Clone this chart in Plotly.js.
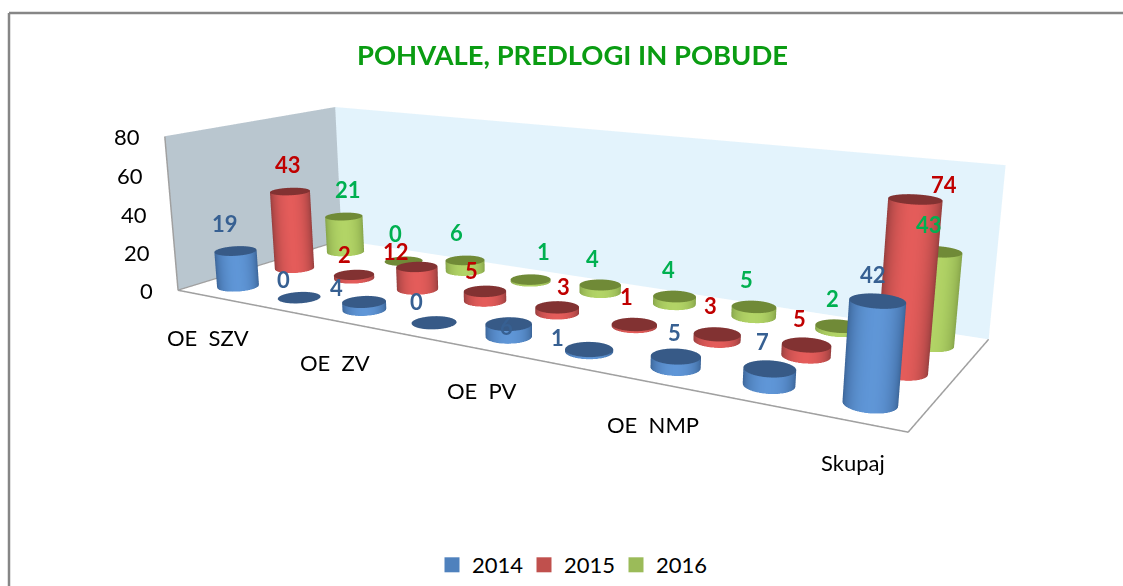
<!DOCTYPE html>
<html><head><meta charset="utf-8">
<script src="https://cdn.plot.ly/plotly-3.0.1.min.js"></script>
<style>html,body{margin:0;padding:0;background:#fff;overflow:hidden;width:1123px;height:586px}#g{position:absolute;left:0}</style>
</head><body><div id="g"></div>
<script>
const categories=['OE  SZV','','OE  ZV','','OE  PV','','OE  NMP','','Skupaj'];
const seriesNames=['2014','2015','2016'];
const v2014=[19,0,4,0,6,1,5,7,42];
const v2015=[43,2,12,5,3,1,3,5,74];
const v2016=[21,0,6,1,4,4,5,2,43];
const zTicks=[0,20,40,60,80];

const vals=[v2014,v2015,v2016];
// pixel nudges of the data labels away from the default spot above each cylinder
const nudgeX=[[-11,-16,-28,-18,-2,-32,-1,-7,-5],[-2,-10,-21,-13,6,-8,-7,-7,29],[4,-8,-9,13,-8,-6,-7,-6,-8]];
const nudgeY=[[0,9,13,6,29,15,3,0,1],[0,7,12,6,6,-1,-2,1,12],[0,-1,-1,-1,1,0,0,-1,0]];

// camera fitted to the wall and floor corners of the reference
const ex=0.7935,ey=-1.3272,ez=0.3605,cx=0.0215,cy=-0.0254,cz=-0.0698,ay=0.3409,az=0.2107,ax=1;
const H=1045,top0=-229;
const gd=document.getElementById('g');gd.style.top=top0+'px';gd.style.width='1123px';gd.style.height=H+'px';

const shades=[{c:[95,150,215],e:[55,95,145],t:[55,90,135]},{c:[228,92,90],e:[140,58,58],t:[130,50,50]},{c:[178,212,102],e:[128,158,70],t:[112,138,55]}];
const R=0.028;
function rgb(c){return'rgb('+c.map(Math.round).join(',')+')'}
function mesh(j){const X=[],Y=[],Z=[],I=[],J=[],K=[],C=[];const N=48,k=shades[j];
 vals[j].forEach((v,i)=>{const cxd=i+.5,cyd=j+.5,rx=R*9/ax,ry=R*3/ay;
  const nx=(cxd/9-.5)*ax,ny=(cyd/3-.5)*ay;const dl=Math.hypot(ex-nx,ey-ny);const d=[(ex-nx)/dl,(ey-ny)/dl];
  const b=X.length;
  for(let a=0;a<=N;a++){const t=a/N*2*Math.PI,cs=Math.cos(t),sn=Math.sin(t);const w=Math.max(0,cs*d[0]+sn*d[1]);
   const col=rgb(k.e.map((q,m)=>q+(k.c[m]-q)*Math.pow(w,1.2)));
   X.push(cxd+rx*cs,cxd+rx*cs);Y.push(cyd+ry*sn,cyd+ry*sn);Z.push(0,v);C.push(col,col);
   if(a<N){const p=b+2*a;I.push(p,p+1);J.push(p+2,p+2);K.push(p+1,p+3)}}
  const tc=X.length;X.push(cxd);Y.push(cyd);Z.push(v);C.push(rgb(k.t));
  for(let a=0;a<=N;a++){const t=a/N*2*Math.PI;X.push(cxd+rx*Math.cos(t));Y.push(cyd+ry*Math.sin(t));Z.push(v);C.push(rgb(k.t));
   if(a<N){I.push(tc);J.push(tc+1+a);K.push(tc+2+a)}}
 });
 return{type:'mesh3d',x:X,y:Y,z:Z,i:I,j:J,k:K,vertexcolor:C,hoverinfo:'skip',showlegend:false,flatshading:false,lighting:{ambient:1,diffuse:0,specular:0,roughness:1,fresnel:0},showscale:false}}
const traces=[0,1,2].map(mesh);
traces.push({type:'scatter3d',mode:'lines',x:[0,0,9,9,null,0,0],y:[3,0,0,3,null,0,0],z:[0,0,0,0,null,0,80],line:{color:'#a0a0a0',width:3},hoverinfo:'skip',showlegend:false});
const legendColors=['#4f81bd','#c0504d','#9bbb59'];
seriesNames.forEach((n,i)=>traces.push({type:'scatter3d',mode:'markers',name:n,x:[null],y:[null],z:[null],marker:{symbol:'square',size:15,color:legendColors[i]},hoverinfo:'skip'}));
const yp=p=>1-(p-top0)/H,xp=p=>p/1123;
const hid={showgrid:false,zeroline:false,showline:false,showticklabels:false,showspikes:false,ticks:'',title:{text:''}};
const ann=[];
const lblC=['#376092','#c00000','#00b050'];
vals.forEach((s,j)=>s.forEach((v,i)=>ann.push({x:i+.5,y:j+.5,z:v,text:'<b>'+v+'</b>',showarrow:false,xshift:nudgeX[j][i],yshift:27-nudgeY[j][i],font:{family:'Lato',size:22,color:lblC[j]}})));
zTicks.forEach(v=>ann.push({x:0,y:0,z:v,text:String(v),showarrow:false,xanchor:'right',xshift:-23,font:{family:'Lato',size:22,color:'#000'}}));
categories.forEach((c,i)=>{if(c)ann.push({x:i+.5,y:0,z:0,text:c.replace('  ','\u00a0\u00a0'),showarrow:false,yshift:-41.5,font:{family:'Lato',size:22,color:'#000'}})});
const layout={width:1123,height:H,margin:{l:0,r:0,t:0,b:0},paper_bgcolor:'#fff',
 title:{text:'POHVALE, PREDLOGI IN POBUDE',x:xp(572.5),xanchor:'center',y:yp(55),yanchor:'middle',font:{family:'Lato',size:27.4,color:'#0a9c12',weight:'bold'}},
 legend:{orientation:'h',x:xp(570),xanchor:'center',y:yp(565),yanchor:'middle',entrywidth:47,font:{family:'Lato',size:22,color:'#000'}},
 scene:{domain:{x:[0,1],y:[0,1]},aspectmode:'manual',aspectratio:{x:ax,y:ay,z:az},
  camera:{eye:{x:ex,y:ey,z:ez},center:{x:cx,y:cy,z:cz},up:{x:0,y:0,z:1}},
  xaxis:{...hid,range:[0,9],showbackground:true,backgroundcolor:'#b9c6cf'},
  yaxis:{...hid,range:[0,3],showbackground:true,backgroundcolor:'#e3f3fc'},
  zaxis:{...hid,range:[0,80],showbackground:true,backgroundcolor:'#ffffff'},
  annotations:ann},
 shapes:[{type:'line',xref:'paper',yref:'paper',x0:xp(9),x1:xp(9),y0:yp(13),y1:yp(586),line:{color:'#868686',width:2.5}},
  {type:'line',xref:'paper',yref:'paper',x0:xp(9),x1:1,y0:yp(13),y1:yp(13),line:{color:'#868686',width:2.5}}]};
Plotly.newPlot(gd,traces,layout,{displayModeBar:false});
</script></body></html>
